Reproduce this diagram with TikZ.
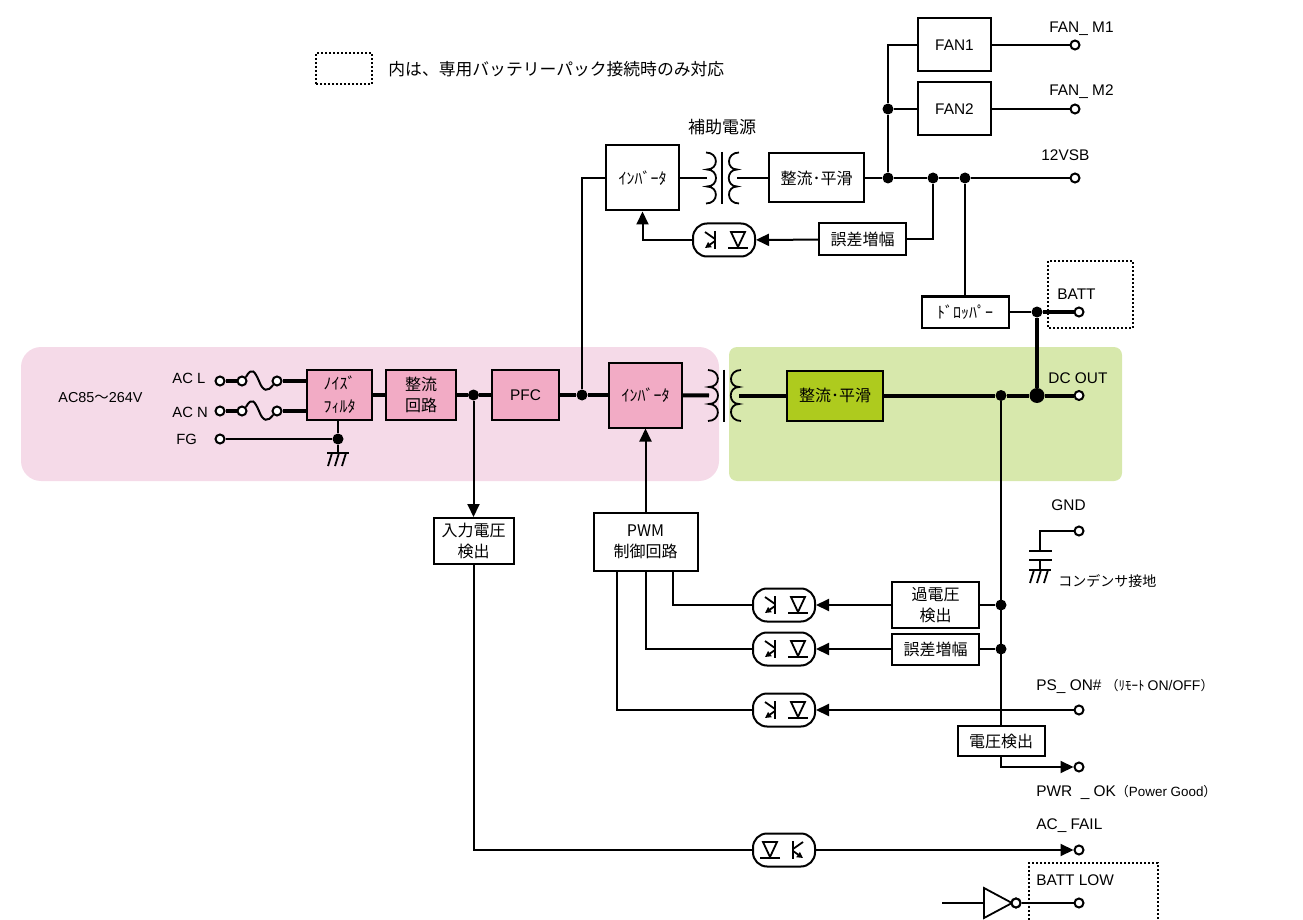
\documentclass[tikz,border=0pt]{standalone}
\usepackage{fontspec}
\setmainfont{Liberation Sans}
\newfontfamily\jp{Noto Sans CJK JP}
\usetikzlibrary{arrows.meta,calc}
\definecolor{pinkbg}{HTML}{F5DAE8}
\definecolor{greenbg}{HTML}{D7E8AC}
\definecolor{pinkbox}{HTML}{F2ABC5}
\definecolor{olivebox}{HTML}{AECB1E}
\tikzset{
  wire/.style={line width=1pt},
  power/.style={line width=2pt},
  arrowwire/.style={line width=1pt,-{Triangle[length=6.5pt,width=6pt]}},
  blk/.style={draw,line width=1pt,inner sep=0pt,align=center,font=\fontsize{8}{10.5}\selectfont\jp,fill=white},
  term/.style={circle,draw,line width=1pt,fill=white,inner sep=0pt,minimum size=4.5pt},
  dotj/.style={circle,fill=black,inner sep=0pt,minimum size=5.5pt},
  bigdot/.style={circle,fill=black,inner sep=0pt,minimum size=7.5pt},
  lbl/.style={anchor=west,inner sep=0pt,font=\fontsize{7.7}{9}\selectfont},
  optobox/.style={draw,line width=1pt,rounded corners=7pt,fill=white,minimum width=31pt,minimum height=16.5pt,inner sep=0pt},
  legendbox/.style={draw,line width=1pt,densely dotted},
}
% opto: name, x, y, xscale
\newcommand{\optoc}[4]{%
  \node[optobox] (#1) at (#2,#3) {};
  \begin{scope}[shift={(#2,#3)},xscale=#4,line width=0.9pt]
    \draw (7,-8) -- (21,-8) -- (14,7) -- cycle;
    \draw (4,8) -- (24,8);
    \draw (-9,-9) -- (-9,9);
    \draw (-19,-8) -- (-9,-1);
    \draw[-{Triangle[length=3pt,width=3pt]}] (-9,1) -- (-19,8);
  \end{scope}}
% transformer: name, x of core, y, half core length
\newcommand{\xfmr}[3]{%
  \begin{scope}[shift={(#2,#3)},line width=0.9pt]
    \coordinate (#1-l) at (-15,0);
    \coordinate (#1-r) at (15,0);
    \draw (0,-26) -- (0,26);
    \draw (-16,-25.5) .. controls (-3,-25.5) and (-3,-8.5) .. (-15,-8.5)
          .. controls (-3,-8.5) and (-3,8.5) .. (-15,8.5)
          .. controls (-3,8.5) and (-3,25.5) .. (-16,25.5);
    \draw (17,-25.5) .. controls (4,-25.5) and (4,-8.5) .. (15,-8.5)
          .. controls (4,-8.5) and (4,8.5) .. (15,8.5)
          .. controls (4,8.5) and (4,25.5) .. (17,25.5);
  \end{scope}}
% ground symbol at x,y (top bar)
\newcommand{\gndsym}[2]{%
  \begin{scope}[shift={(#1,#2)},line width=0.9pt]
    \draw (-11,0) -- (11,0);
    \draw (-6,0) -- (-10,13);
    \draw (1,0) -- (-3,13);
    \draw (8,0) -- (4,13);
  \end{scope}}
\begin{document}
\begin{tikzpicture}[x=0.5pt,y=-0.5pt]
\path[use as bounding box] (0,0) rectangle (1303,920);
% regions
\fill[pinkbg,rounded corners=10pt] (21,347) rectangle (719,481);
\fill[greenbg,rounded corners=4pt] (729,347) rectangle (1122,481);
% legend
\node[legendbox,minimum width=28pt,minimum height=15.5pt,inner sep=0pt] (legend) at (344,68.5) {};
\node[lbl,font=\fontsize{8.4}{10}\selectfont\jp] (legendtext) at (388,69) {内は、専用バッテリーパック接続時のみ対応};
\draw[legendbox] (1048,261) rectangle (1133,328);
\draw[legendbox] (1029,920) -- (1029,863) -- (1158,863) -- (1158,920);

% blocks
\node[blk,minimum width=36.5pt,minimum height=26.5pt,font=\fontsize{7.7}{9}\selectfont] (fan1) at (954.5,45) {FAN1};
\node[blk,minimum width=36.5pt,minimum height=26.5pt,font=\fontsize{7.7}{9}\selectfont] (fan2) at (954.5,109) {FAN2};
\node[blk,minimum width=36.5pt,minimum height=32.5pt] (invA) at (642.5,178) {ｲﾝﾊﾞｰﾀ};
\node[blk,minimum width=47.5pt,minimum height=24.5pt] (recA) at (816.5,178) {整流･平滑};
\node[blk,minimum width=43.5pt,minimum height=16pt] (errA) at (862.5,239.5) {誤差増幅};
\node[blk,minimum width=43.5pt,minimum height=15.5pt] (drop) at (965,312) {ﾄﾞﾛｯﾊﾟｰ};
\node[blk,fill=pinkbox,minimum width=32.5pt,minimum height=25pt] (filt) at (339.5,395) {ﾉｲｽﾞ\\[1pt]ﾌｨﾙﾀ};
\node[blk,fill=pinkbox,minimum width=35pt,minimum height=25pt] (recP) at (421,395) {整流\\回路};
\node[blk,fill=pinkbox,minimum width=33.5pt,minimum height=25pt,font=\fontsize{7.7}{9}\selectfont] (pfc) at (525.5,395) {PFC};
\node[blk,fill=pinkbox,minimum width=36.5pt,minimum height=32.5pt] (invM) at (645.5,395) {ｲﾝﾊﾞｰﾀ};
\node[blk,fill=olivebox,minimum width=48pt,minimum height=25pt] (recM) at (835,395.5) {整流･平滑};
\node[blk,minimum width=40pt,minimum height=23pt] (detI) at (473.5,541) {入力電圧\\検出};
\node[blk,minimum width=52pt,minimum height=29pt] (pwm) at (645.5,542) {PWM\\制御回路};
\node[blk,minimum width=43.5pt,minimum height=23pt] (ovp) at (935.5,605) {過電圧\\検出};
\node[blk,minimum width=43.5pt,minimum height=15.5pt] (errB) at (935.5,649) {誤差増幅};
\node[blk,minimum width=43.5pt,minimum height=15pt] (detV) at (1001,741) {電圧検出};

% optocouplers and transformers
\optoc{optoA}{724}{240}{1}
\optoc{optoB}{784}{605}{1}
\optoc{optoC}{784}{649}{1}
\optoc{optoD}{784}{710}{1}
\optoc{optoE}{784}{850}{-1}
\xfmr{xfA}{722}{178}
\xfmr{xfM}{724}{395.5}

% terminals
\node[term] (tM1) at (1075,45) {};
\node[term] (tM2) at (1075,109) {};
\node[term] (tVsb) at (1075,178) {};
\node[term] (tBatt) at (1079,312) {};
\node[term] (tDc) at (1079,395.5) {};
\node[term] (tGnd) at (1079,531) {};
\node[term] (tPs) at (1079,710) {};
\node[term] (tPwr) at (1079,767) {};
\node[term] (tAc) at (1079,850) {};
\node[term] (tLow) at (1079,903) {};
\node[term] (tL) at (220,381) {};
\node[term] (tN) at (220,411) {};
\node[term] (tFG) at (220,439) {};
\node[term] (fL1) at (242,381) {};
\node[term] (fL2) at (277,381) {};
\node[term] (fN1) at (242,411) {};
\node[term] (fN2) at (277,411) {};

% junctions
\node[dotj] (dIn) at (473.5,395) {};
\node[dotj] (dPfc) at (582,395) {};
\node[dotj] (dFG) at (338,439) {};
\node[dotj] (dTop) at (888,178) {};
\node[dotj] (dFan) at (888,109) {};
\node[dotj] (dErr) at (933,178) {};
\node[dotj] (dDrop) at (965,178) {};
\node[dotj] (dBatt) at (1037,312) {};
\node[dotj] (dSense) at (1001,395.5) {};
\node[bigdot] (dOut) at (1037,395.5) {};
\node[dotj] (dOvp) at (1001,605) {};
\node[dotj] (dErrB) at (1001,649) {};
\coordinate (pwmA) at (673,571);
\coordinate (pwmB) at (645.5,571);
\coordinate (pwmC) at (617,571);
\coordinate (gndTop) at (338,453);
\coordinate (capTop) at (1040,551);
\coordinate (capBot) at (1040,560);
\coordinate (capGnd) at (1040,570);
\coordinate (notIn) at (942,903);
\coordinate (notL) at (984,903);
\node[term] (notB) at (1016,903) {};

% power wires
\draw[power] (tL) -- (fL1);
\draw[power] (fL2) -- (filt.west |- fL2);
\draw[power] (tN) -- (fN1);
\draw[power] (fN2) -- (filt.west |- fN2);
\draw[wire] (fL1.north east) .. controls (252,366) and (255,372) .. (259,381) .. controls (263,392) and (268,392) .. (fL2.south west);
\draw[wire] (fN1.north east) .. controls (252,396) and (255,402) .. (259,411) .. controls (263,422) and (268,422) .. (fN2.south west);
\draw[power] (filt) -- (recP);
\draw[power] (recP) -- (dIn) -- (pfc);
\draw[power] (pfc) -- (dPfc) -- (invM);
\draw[power] (invM) -- (xfM-l);
\draw[power] (xfM-r) -- (recM);
\draw[power] (recM) -- (dSense) -- (dOut) -- (tDc);
\draw[power] (dOut) -- (dBatt);
\draw[power] (dBatt) -- (tBatt);
% thin wires
\draw[wire] (tFG) -- (dFG);
\draw[wire] (filt.south -| dFG) -- (dFG) -- (gndTop);
\gndsym{338}{453}
\draw[arrowwire] (dIn) -- (detI);
\draw[wire] (dPfc) |- (invA);
\draw[wire] (invA) -- (xfA-l);
\draw[wire] (xfA-r) -- (recA);
\draw[wire] (recA) -- (dTop) -- (dErr) -- (dDrop) -- (tVsb);
\draw[wire] (dTop) -- (dFan);
\draw[wire] (dFan) |- (fan1);
\draw[wire] (dFan) -- (fan2);
\draw[wire] (fan1) -- (tM1);
\draw[wire] (fan2) -- (tM2);
\draw[wire] (dErr) |- (errA);
\draw[wire] (dDrop) -- (drop);
\draw[wire] (drop) -- (dBatt);
\draw[arrowwire] (errA) -- (optoA);
\draw[arrowwire] (optoA) -| (invA);
\draw[arrowwire] (pwm) -- (invM);
\draw[wire] (pwmA) |- (optoB);
\draw[wire] (pwmB) |- (optoC);
\draw[wire] (pwmC) |- (optoD);
\draw[arrowwire] (ovp) -- (optoB);
\draw[arrowwire] (errB) -- (optoC);
\draw[arrowwire] (tPs) -- (optoD);
\draw[wire] (ovp) -- (dOvp);
\draw[wire] (errB) -- (dErrB);
\draw[wire] (dSense) -- (detV);
\draw[arrowwire] (detV) |- (tPwr);
\draw[wire] (detI) |- (optoE);
\draw[arrowwire] (optoE) -- (tAc);
\draw[wire] (tGnd) -| (capTop);
\draw[wire] (1029,551) -- (1052,551);
\draw[wire] (1029,560) -- (1052,560);
\draw[wire] (capBot) -- (capGnd);
\gndsym{1040}{570}
\draw[wire] (notIn) -- (notL);
\draw[line width=0.9pt,fill=white] (984,888) -- (1012,903) -- (984,918) -- cycle;
\node[term] at (notB) {};
\draw[wire] (notB) -- (tLow);

% labels
\node[lbl] (lM1) at (1049,29) {FAN\_ M1};
\node[lbl] (lM2) at (1049,92) {FAN\_ M2};
\node[lbl] (lVsb) at (1041,155) {12VSB};
\node[lbl] (lBatt) at (1057,294) {BATT};
\node[lbl] (lDc) at (1048,378) {DC OUT};
\node[lbl] (lGnd) at (1051,505) {GND};
\node[lbl,font=\fontsize{7}{9}\selectfont\jp] (lCap) at (1058,581) {コンデンサ接地};
\node[lbl] (lPs) at (1036,686) {PS\_ ON\# {\fontsize{6.5}{9}\selectfont\jp（ﾘﾓｰﾄ }{\fontsize{7}{9}\selectfont ON/OFF}{\fontsize{6.5}{9}\selectfont\jp ）}};
\node[lbl] (lPwr) at (1036,792) {PWR \ \_ OK{\fontsize{6.5}{9}\selectfont\jp（}{\fontsize{6.7}{9}\selectfont Power Good}{\fontsize{6.5}{9}\selectfont\jp ）}};
\node[lbl] (lAc) at (1036,826) {AC\_ FAIL};
\node[lbl] (lLow) at (1036,880) {BATT LOW};
\node[inner sep=0pt,font=\fontsize{8.5}{10}\selectfont\jp] (lAux) at (722,127) {補助電源};
\node[lbl,font=\fontsize{7.2}{9}\selectfont] (lAc85) at (58,398) {AC85{\jp ～}264V};
\node[lbl,font=\fontsize{7.4}{9}\selectfont] (lL) at (172,378) {AC L};
\node[lbl,font=\fontsize{7.4}{9}\selectfont] (lN) at (172,412) {AC N};
\node[lbl,font=\fontsize{7.4}{9}\selectfont] (lFG) at (176,439) {FG};
\end{tikzpicture}
\end{document}
